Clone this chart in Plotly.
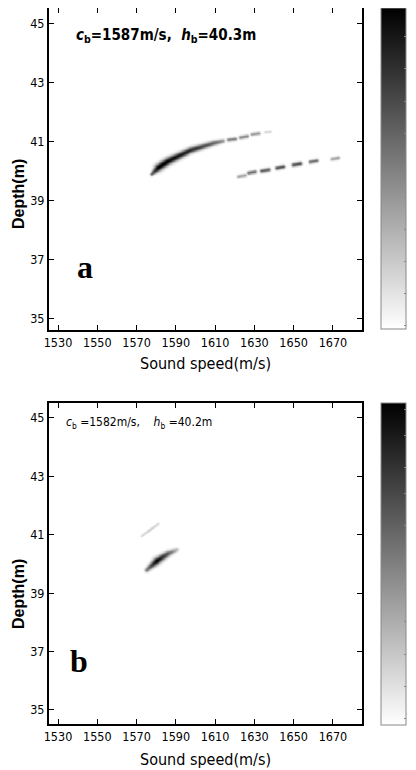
import numpy as np
import plotly.graph_objects as go

# ---------------- data ----------------
X_TICKS = [1530, 1550, 1570, 1590, 1610, 1630, 1650, 1670]
Y_TICKS = [35, 37, 39, 41, 43, 45]

# strokes of the ambiguity surface: segment ends (sound speed, depth), amplitude at both ends, width (px sigma) at both ends
A_X0 = [1577.7, 1581.0, 1586.0, 1597.0, 1609.0, 1616.8, 1622.8, 1628.8, 1635.5,
        1621.8, 1626.9, 1633.7, 1641.3, 1649.8, 1658.3, 1669.3]
A_Y0 = [39.90, 40.12, 40.34, 40.70, 40.95, 41.06, 41.14, 41.25, 41.32,
        39.82, 39.94, 40.01, 40.11, 40.22, 40.32, 40.41]
A_X1 = [1581.0, 1586.0, 1597.0, 1609.0, 1614.0, 1620.2, 1626.2, 1632.2, 1638.0,
        1625.2, 1630.3, 1637.1, 1644.7, 1653.2, 1661.7, 1672.7]
A_Y1 = [40.12, 40.34, 40.70, 40.95, 41.02, 41.09, 41.18, 41.28, 41.34,
        39.86, 39.98, 40.05, 40.15, 40.26, 40.36, 40.45]
A_AMP0 = [0.60, 1.00, 0.97, 0.85, 0.60, 0.48, 0.45, 0.40, 0.14,
          0.34, 0.55, 0.62, 0.66, 0.66, 0.55, 0.34]
A_AMP1 = [1.00, 1.00, 0.85, 0.60, 0.42, 0.48, 0.45, 0.40, 0.14,
          0.34, 0.55, 0.62, 0.66, 0.66, 0.55, 0.34]
A_W0 = [1.2, 2.6, 2.4, 2.1, 1.7, 1.3, 1.3, 1.2, 1.0, 1.2, 1.3, 1.4, 1.4, 1.4, 1.3, 1.2]
A_W1 = [2.6, 2.4, 2.1, 1.7, 1.4, 1.3, 1.3, 1.2, 1.0, 1.2, 1.3, 1.4, 1.4, 1.4, 1.3, 1.2]

B_X0 = [1572.6, 1577.0, 1575.2, 1580.3, 1586.0]
B_Y0 = [40.95, 41.17, 39.79, 40.10, 40.35]
B_X1 = [1577.0, 1581.1, 1580.3, 1586.0, 1590.4]
B_Y1 = [41.17, 41.38, 40.10, 40.35, 40.48]
B_AMP0 = [0.14, 0.20, 0.50, 1.00, 0.65]
B_AMP1 = [0.20, 0.15, 1.00, 0.65, 0.28]
B_W0 = [0.9, 1.0, 1.5, 2.5, 2.0]
B_W1 = [1.0, 0.9, 2.5, 2.0, 1.4]

CB_A_VALS = [0.01, 0.11, 0.21, 0.31, 0.41, 0.51, 0.61, 0.71, 0.81, 0.91]
CB_A_TEXT = ["0.5", "0.5", "0.5", "0.5", "0.5", "0.5", "0.5", "0.5", "0.9", "0.5"]
CB_B_VALS = [0.02, 0.12, 0.22, 0.32, 0.42, 0.52, 0.62, 0.72, 0.80, 0.90, 0.98]
CB_B_TEXT = ["0.5", "0.5", "0.5", "0.5", "0.5", "0.5", "0.5", "0.5", "0.5", "0.5", "0.5"]

HEAD_A = "<b><i>c</i><sub>b</sub>=1587m/s,&nbsp;&nbsp;<i>h</i><sub>b</sub>=40.3m</b>"
HEAD_B = "<i>c</i><sub>b</sub> =1582m/s,&nbsp;&nbsp;&nbsp;&nbsp;<i>h</i><sub>b</sub> =40.2m"

# ---------------- rendering of the surfaces ----------------
GX = np.arange(1560.0, 1682.0, 0.25)
GY = np.arange(39.3, 41.8, 0.02)
SX, SY = 1.964, 29.4  # px per unit


def surface(x0s, y0s, x1s, y1s, a0s, a1s, w0s, w1s):
    X, Y = np.meshgrid(GX, GY)
    Z = np.zeros_like(X)
    for x0, y0, x1, y1, a0, a1, w0, w1 in zip(x0s, y0s, x1s, y1s, a0s, a1s, w0s, w1s):
        dx, dy = (x1 - x0) * SX, (y1 - y0) * SY
        px, py = (X - x0) * SX, (Y - y0) * SY
        L2 = dx * dx + dy * dy
        t = np.clip((px * dx + py * dy) / L2, 0, 1)
        d2 = (px - t * dx) ** 2 + (py - t * dy) ** 2
        amp = a0 + (a1 - a0) * t
        w = w0 + (w1 - w0) * t
        Z = np.maximum(Z, amp * np.exp(-0.5 * d2 / (w * w)))
    Z = np.round(Z, 3)
    Z[Z < 0.01] = 0
    return Z


ZA = surface(A_X0, A_Y0, A_X1, A_Y1, A_AMP0, A_AMP1, A_W0, A_W1)
ZB = surface(B_X0, B_Y0, B_X1, B_Y1, B_AMP0, B_AMP1, B_W0, B_W1)

# the page body has an 8px margin, so the figure is drawn 8px smaller and offset
OFF = 8
W, H = 416 - OFF, 770 - OFF


def px2x(p):
    return (p - OFF) / W


def py2y(p):
    return 1 - (p - OFF) / H


GRAY = [[0, "#ffffff"], [1, "#000000"]]

fig = go.Figure()
fig.add_trace(go.Heatmap(x=GX, y=GY, z=ZA, coloraxis="coloraxis", xaxis="x", yaxis="y", hoverinfo="skip"))
fig.add_trace(go.Heatmap(x=GX, y=GY, z=ZB, coloraxis="coloraxis2", xaxis="x2", yaxis="y2", hoverinfo="skip"))

NARROW = "DejaVu Sans Condensed, Liberation Sans"
TICKFONT = dict(family=NARROW, size=12.5, color="black")


def xax(dom, anchor):
    return dict(domain=dom, anchor=anchor, range=[1525.4, 1684.8], tickvals=X_TICKS,
                ticks="inside", ticklen=5, tickwidth=1, tickcolor="black", mirror="ticks",
                showline=True, linecolor="black", linewidth=2, showgrid=False, zeroline=False,
                tickfont=TICKFONT)


def yax(dom, anchor, rng):
    return dict(domain=dom, anchor=anchor, range=rng, tickvals=Y_TICKS,
                ticks="inside", ticklen=5, tickwidth=1, tickcolor="black", mirror="ticks",
                showline=True, linecolor="black", linewidth=2, showgrid=False, zeroline=False,
                tickfont=TICKFONT)


def cbar(top, bottom, vals, text):
    return dict(x=px2x(381), xanchor="left", thickness=25, thicknessmode="pixels",
                y=py2y(top), yanchor="top", len=(bottom - top) / H, lenmode="fraction",
                outlinewidth=1, outlinecolor="#888888", tickvals=vals, ticktext=text,
                ticks="inside", ticklen=2, tickcolor="#888888",
                tickfont=dict(size=5, color="#777777", family="Liberation Sans"), xpad=0, ypad=0)


fig.update_layout(
    width=W, height=H, margin=dict(l=0, r=0, t=0, b=0, autoexpand=False),
    paper_bgcolor="white", plot_bgcolor="white", showlegend=False,
    xaxis=xax([px2x(49), px2x(362)], "y"),
    yaxis=yax([py2y(330), py2y(8)], "x", [34.6, 45.54]),
    xaxis2=xax([px2x(49), px2x(362)], "y2"),
    yaxis2=yax([py2y(724), py2y(403)], "x2", [34.52, 45.51]),
    coloraxis=dict(colorscale=GRAY, cmin=0, cmax=1, colorbar=cbar(8, 329, CB_A_VALS, CB_A_TEXT)),
    coloraxis2=dict(colorscale=GRAY, cmin=0, cmax=1, colorbar=cbar(403, 725, CB_B_VALS, CB_B_TEXT)),
)

ann = []
for ytitle, xtitle in [(194, 363), (594, 759)]:
    ann.append(dict(text="Sound speed(m/s)", x=px2x(205), y=py2y(xtitle), xref="paper", yref="paper",
                    showarrow=False, xanchor="center", yanchor="middle",
                    font=dict(family=NARROW, size=16, color="black")))
    ann.append(dict(text="<b>Depth(m)</b>", x=px2x(18), y=py2y(ytitle), xref="paper", yref="paper",
                    showarrow=False, xanchor="center", yanchor="middle", textangle=-90,
                    font=dict(family="Liberation Sans", size=16, color="black")))
ann.append(dict(text=HEAD_A, x=px2x(74), y=py2y(35), xref="paper", yref="paper", showarrow=False,
                xanchor="left", yanchor="middle", font=dict(family=NARROW, size=15, color="black")))
ann.append(dict(text=HEAD_B, x=px2x(64), y=py2y(423), xref="paper", yref="paper", showarrow=False,
                xanchor="left", yanchor="middle", font=dict(family=NARROW, size=12, color="black")))
ann.append(dict(text="<b>a</b>", x=px2x(85), y=py2y(267), xref="paper", yref="paper", showarrow=False,
                xanchor="center", yanchor="middle", font=dict(family="Liberation Serif", size=32, color="black")))
ann.append(dict(text="<b>b</b>", x=px2x(79), y=py2y(661), xref="paper", yref="paper", showarrow=False,
                xanchor="center", yanchor="middle", font=dict(family="Liberation Serif", size=32, color="black")))
fig.update_layout(annotations=ann)

fig.write_html("out.html")
